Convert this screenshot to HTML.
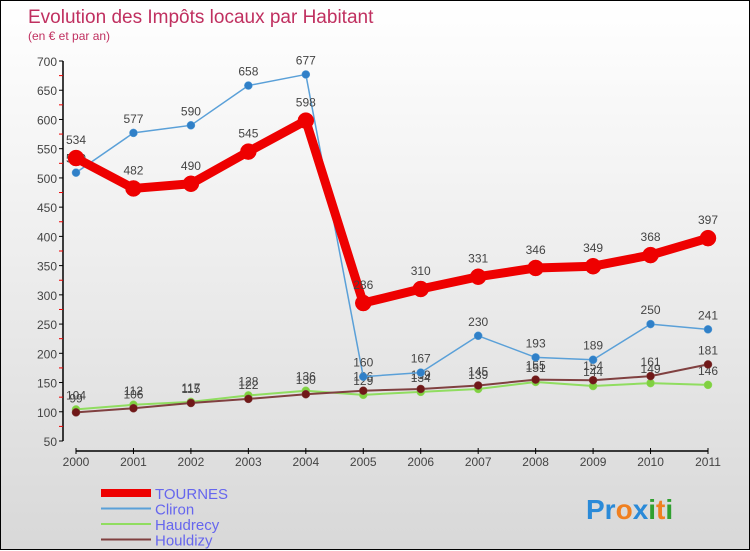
<!DOCTYPE html>
<html><head><meta charset="utf-8"><style>
body{margin:0;width:750px;height:550px;overflow:hidden;font-family:"Liberation Sans",sans-serif}
#wrap{position:relative;width:748px;height:548px;border:1px solid #000;background:linear-gradient(#fff 0%,#f4f4f4 30%,#d8d8d8 100%)}
svg{position:absolute;left:0;top:0}
</style></head><body>
<div id="wrap">
<svg id="chart" width="750" height="550">
<text x="27" y="22" font-size="19" fill="#c03060">Evolution des Impôts locaux par Habitant</text>
<text x="27" y="39" font-size="12" fill="#c03060">(en € et par an)</text>
<g id="axes"></g><g id="series"></g><g id="legend"></g>
<text x="585" y="518" font-size="28" font-weight="bold"><tspan fill="#2a8ad8">Pr</tspan><tspan fill="#f08020">o</tspan><tspan fill="#2a8ad8">x</tspan><tspan fill="#30a030">i</tspan><tspan fill="#f08020">t</tspan><tspan fill="#30a030">i</tspan></text>
</svg></div>
<script>
const years=[2000,2001,2002,2003,2004,2005,2006,2007,2008,2009,2010,2011];
const tournes=[534,482,490,545,598,286,310,331,346,349,368,397];
const cliron=[509,577,590,658,677,160,167,230,193,189,250,241];
const haudrecy=[104,112,117,128,136,129,134,139,151,144,149,146];
const houldizy=[99,106,115,122,130,136,139,145,155,154,161,181];
const yTicks=[50,100,150,200,250,300,350,400,450,500,550,600,650,700];
const NS="http://www.w3.org/2000/svg";
const X=i=>75+(707-75)*i/(years.length-1);
const Y=v=>440-(v-50)*(380/650);
function mk(t,a,p){const e=document.createElementNS(NS,t);for(const k in a)e.setAttribute(k,a[k]);p.appendChild(e);return e;}
const ax=document.getElementById('axes');
let l=mk('line',{x1:62,y1:Y(700),x2:62,y2:Y(50),stroke:'#000','stroke-width':1.5},ax);


yTicks.forEach(v=>{
 mk('line',{x1:58,y1:Y(v),x2:62,y2:Y(v),stroke:'#000'},ax);
 if(v<700)mk('line',{x1:58,y1:Y(v+25),x2:62,y2:Y(v+25),stroke:'#e00'},ax);
 const t=mk('text',{x:56,y:Y(v)+5,'text-anchor':'end','font-size':12,fill:'#444'},ax);
 t.textContent=v;
 
 
});
l=mk('line',{x1:75,y1:450,x2:707,y2:450,stroke:'#000','stroke-width':1.5},ax);


years.forEach((y,i)=>{
 mk('line',{x1:X(i),y1:447,x2:X(i),y2:453,stroke:'#000'},ax);
 const t=mk('text',{x:X(i),y:465,'text-anchor':'middle','font-size':12,fill:'#444'},ax);
 t.textContent=y;
 
 
});
const sg=document.getElementById('series');
function series(vals,name,color,w,r,dot){
 const g=mk('g',{},sg);
 
 
 const pl=mk('polyline',{points:vals.map((v,i)=>X(i)+','+Y(v)).join(' '),fill:'none',stroke:color,'stroke-width':w,'stroke-linejoin':'round'},g);
 
 
 vals.forEach((v,i)=>{
  const c=mk('circle',{cx:X(i),cy:Y(v),r:r,fill:dot,stroke:color,'stroke-width':0.5},g);
  
  
  const t=mk('text',{x:X(i),y:Y(v)-r-6,'text-anchor':'middle','font-size':12,fill:'#444'},g);
  t.textContent=v;
  
  
 });
}
series(haudrecy,'haudrecy','#90dd60',2,4,'#80d040');
series(houldizy,'houldizy','#804040',2,4,'#701818');
series(cliron,'cliron','#5aa0d8',1.5,4,'#3080c8');
series(tournes,'tournes','#ee0000',9,8,'#ee0000');
const lg=document.getElementById('legend');
[['TOURNES','#ee0000',8],['Cliron','#5aa0d8',2],['Haudrecy','#90dd60',2],['Houldizy','#804040',2]].forEach((d,i)=>{
 const y=492+i*15.5;
 const g=mk('g',{},lg);
 
 
 mk('line',{x1:100,y1:y,x2:150,y2:y,stroke:d[1],'stroke-width':d[2]},g);
 const t=mk('text',{x:154,y:y+6,'font-size':15,fill:'#6666ee'},g);
 t.textContent=d[0];
});
</script></body></html>
